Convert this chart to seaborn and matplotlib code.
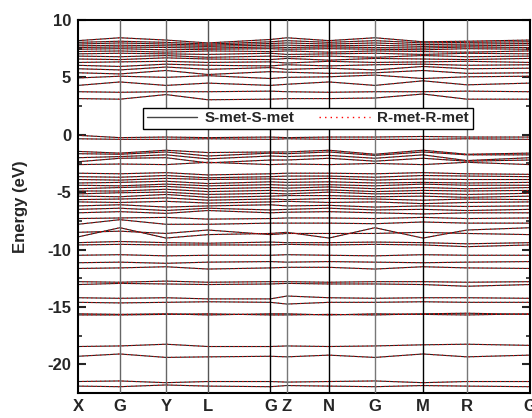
import numpy as np
import pandas as pd
import matplotlib
matplotlib.use("Agg")
import matplotlib.pyplot as plt
from matplotlib.lines import Line2D
from matplotlib.ticker import MultipleLocator
import seaborn as sns

# k-path (high symmetry points) and their positions along the path
kpoint_labels = ['X', 'G', 'Y', 'L', 'G', 'Z', 'N', 'G', 'M', 'R', 'G']
kpoint_pos = [0, 42, 88, 130, 192.5, 209, 251, 297, 345, 389, 452]

# band energies (eV) at each high symmetry point
deep_bands = [
    [-21.9, -21.95, -21.8, -21.9, -21.95, -21.85, -21.9, -21.95, -21.85, -21.9, -21.95],
    [-21.5, -21.45, -21.6, -21.5, -21.5, -21.55, -21.5, -21.45, -21.6, -21.5, -21.5],
    [-19.3, -19.1, -19.4, -19.35, -19.3, -19.35, -19.2, -19.4, -19.1, -19.35, -19.2],
    [-18.45, -18.4, -18.25, -18.45, -18.45, -18.4, -18.45, -18.4, -18.3, -18.25, -18.35],
    [-15.7, -15.7, -15.65, -15.6, -15.7, -15.7, -15.65, -15.7, -15.6, -15.55, -15.65],
    [-15.6, -15.65, -15.6, -15.7, -15.6, -15.6, -15.7, -15.6, -15.65, -15.7, -15.6],
    [-14.6, -14.65, -14.6, -14.55, -14.6, -14.75, -14.6, -14.6, -14.55, -14.6, -14.6],
    [-14.2, -14.25, -14.2, -14.3, -14.3, -14.05, -14.2, -14.25, -14.2, -14.2, -14.25],
    [-13.05, -12.95, -13.0, -13.05, -13.0, -12.95, -13.0, -13.0, -13.05, -13.2, -13.05],
    [-12.8, -12.85, -12.75, -12.85, -12.8, -12.8, -12.85, -12.8, -12.8, -12.85, -12.8],
    [-11.65, -11.6, -11.5, -11.7, -11.6, -11.55, -11.55, -11.7, -11.5, -11.6, -11.65],
]

valence_bands = [
    [-11.15, -11.1, -11.2, -11.1, -11.05, -11.1, -11.05, -11.1, -11.15, -11.1, -11.05],
    [-10.5, -10.45, -10.55, -10.5, -10.5, -10.45, -10.5, -10.55, -10.45, -10.5, -10.5],
    [-9.6, -9.55, -9.6, -9.6, -9.6, -9.55, -9.6, -9.55, -9.6, -9.75, -9.6],
    [-9.4, -9.3, -9.4, -9.45, -9.35, -9.4, -9.4, -9.35, -9.4, -9.5, -9.4],
    [-8.9, -8.1, -9.0, -8.7, -8.6, -8.5, -9.0, -8.1, -9.0, -8.3, -8.1],
    [-8.5, -8.4, -8.6, -8.3, -8.7, -8.6, -8.6, -8.6, -8.5, -8.6, -8.7],
    [-7.8, -7.4, -7.8, -7.8, -7.7, -7.7, -7.7, -7.75, -7.6, -7.7, -7.7],
    [-7.3, -7.25, -7.2, -7.35, -7.3, -7.25, -7.25, -7.3, -7.2, -7.3, -7.25],
    [-6.8, -6.7, -6.85, -6.6, -6.8, -6.75, -6.7, -6.8, -6.9, -6.8, -6.8],
    [-6.5, -6.4, -6.6, -6.4, -6.55, -6.5, -6.4, -6.55, -6.5, -6.6, -6.5],
    [-6.2, -6.1, -6.3, -6.2, -6.1, -6.2, -6.15, -6.3, -6.2, -6.25, -6.2],
    [-5.85, -5.9, -5.8, -5.95, -5.85, -5.8, -5.9, -5.85, -6.0, -5.9, -5.85],
    [-5.65, -5.6, -5.5, -5.7, -5.6, -5.65, -5.55, -5.6, -5.7, -5.6, -5.65],
    [-5.35, -5.4, -5.2, -5.45, -5.35, -5.3, -5.3, -5.4, -5.35, -5.45, -5.35],
    [-5.15, -5.05, -5.0, -5.2, -5.1, -5.15, -5.0, -5.15, -5.1, -5.2, -5.1],
    [-4.9, -4.9, -4.75, -4.95, -4.85, -4.9, -4.8, -4.95, -4.85, -4.9, -4.85],
    [-4.7, -4.6, -4.5, -4.7, -4.6, -4.65, -4.55, -4.7, -4.6, -4.7, -4.6],
    [-4.4, -4.45, -4.3, -4.45, -4.35, -4.4, -4.35, -4.45, -4.3, -4.4, -4.4],
    [-4.2, -4.15, -4.05, -4.25, -4.1, -4.15, -4.1, -4.2, -4.15, -4.2, -4.15],
    [-3.9, -3.95, -3.8, -3.9, -3.85, -3.9, -3.8, -3.95, -3.85, -3.9, -3.9],
    [-3.65, -3.7, -3.55, -3.75, -3.65, -3.6, -3.6, -3.7, -3.55, -3.6, -3.65],
    [-3.35, -3.4, -3.3, -3.5, -3.4, -3.35, -3.35, -3.4, -3.3, -3.4, -3.45],
    [-2.6, -2.55, -2.6, -2.4, -2.6, -2.55, -2.6, -2.5, -2.6, -2.4, -2.6],
    [-2.35, -2.05, -2.0, -2.45, -2.2, -2.2, -2.05, -2.3, -2.05, -2.3, -2.2],
    [-2.0, -1.9, -1.75, -2.1, -1.85, -1.9, -1.8, -2.05, -1.75, -2.25, -2.0],
    [-1.65, -1.7, -1.5, -1.85, -1.6, -1.65, -1.5, -1.8, -1.5, -1.75, -1.75],
    [-1.45, -1.6, -1.35, -1.55, -1.5, -1.5, -1.35, -1.7, -1.35, -1.7, -1.6],
    [-0.35, -0.4, -0.4, -0.35, -0.4, -0.35, -0.4, -0.4, -0.4, -0.35, -0.4],
    [-0.05, -0.25, -0.2, -0.25, -0.2, -0.25, -0.2, -0.2, -0.15, -0.2, -0.2],
]

conduction_bands = [
    [3.15, 3.1, 3.5, 3.05, 3.1, 3.15, 3.15, 3.2, 3.55, 3.1, 3.1],
    [3.75, 3.7, 3.75, 3.75, 3.8, 3.75, 3.7, 3.75, 3.75, 3.8, 3.75],
    [4.3, 4.6, 4.3, 4.5, 4.3, 4.4, 4.6, 4.3, 4.7, 4.35, 4.5],
    [4.95, 5.1, 5.0, 5.15, 4.9, 5.0, 5.05, 5.2, 4.9, 5.05, 5.1],
    [5.4, 5.3, 5.6, 5.25, 5.5, 5.45, 5.35, 5.4, 5.6, 5.35, 5.4],
    [5.75, 5.65, 5.9, 5.7, 5.85, 5.7, 5.8, 5.65, 5.95, 5.75, 5.8],
    [6.05, 5.95, 6.15, 6.05, 6.0, 6.1, 6.0, 6.1, 6.15, 6.05, 6.1],
    [6.3, 6.35, 6.4, 6.3, 6.35, 6.25, 6.4, 6.3, 6.35, 6.4, 6.3],
    [6.6, 6.55, 6.7, 6.6, 6.55, 6.65, 6.5, 6.65, 6.6, 6.55, 6.65],
    [6.85, 6.8, 6.9, 6.75, 6.85, 6.8, 6.85, 6.75, 6.9, 6.8, 6.85],
    [7.05, 7.1, 7.05, 7.0, 7.1, 7.0, 7.05, 7.1, 7.0, 7.1, 7.05],
    [7.25, 7.3, 7.2, 7.3, 7.25, 7.3, 7.2, 7.3, 7.25, 7.2, 7.3],
    [7.45, 7.5, 7.4, 7.45, 7.5, 7.45, 7.5, 7.45, 7.4, 7.5, 7.45],
    [7.6, 7.65, 7.6, 7.55, 7.65, 7.6, 7.65, 7.6, 7.55, 7.65, 7.6],
    [7.75, 7.8, 7.75, 7.7, 7.8, 7.8, 7.75, 7.8, 7.7, 7.75, 7.8],
    [7.9, 8.0, 7.9, 7.8, 7.95, 8.0, 7.9, 8.0, 7.85, 7.9, 7.95],
    [8.05, 8.15, 8.05, 7.9, 8.1, 8.2, 8.05, 8.2, 8.0, 8.05, 8.1],
    [8.2, 8.45, 8.25, 8.0, 8.3, 8.45, 8.2, 8.45, 8.1, 8.15, 8.25],
]

s_met_bands = deep_bands + valence_bands + conduction_bands
# R-met bands lie on top of the S-met ones in the picture
r_met_bands = s_met_bands

# vertical separators: gray / black as in the picture
sep_colors = ['none', '#666666', '#666666', '#555555', 'black', '#777777',
              'black', '#777777', 'black', '#777777', 'none']


def to_long(bands, name):
    rows = []
    for i, b in enumerate(bands):
        for k, e in zip(kpoint_pos, b):
            rows.append((name, i, k, e))
    return pd.DataFrame(rows, columns=['series', 'band', 'k', 'energy'])


df_s = to_long(s_met_bands, 'S-met-S-met')
df_r = to_long(r_met_bands, 'R-met-R-met')

sns.set_style('ticks')
plt.rcParams['font.family'] = ['Liberation Sans', 'DejaVu Sans']
plt.rcParams['font.weight'] = 'bold'
plt.rcParams['axes.unicode_minus'] = False

fig = plt.figure(figsize=(5.32, 4.18), dpi=100)
ax = fig.add_axes([0.1466, 0.0598, 0.8494, 0.8924])

sns.lineplot(data=df_s, x='k', y='energy', units='band', estimator=None,
             color='#222222', lw=0.8, ax=ax, legend=False)
sns.lineplot(data=df_r, x='k', y='energy', units='band', estimator=None,
             color='red', lw=0.8, linestyle=(0, (1, 3)), ax=ax, legend=False)

for k, c in zip(kpoint_pos, sep_colors):
    if c != 'none':
        ax.axvline(k, color=c, lw=1.0, zorder=3)

ax.set_xlim(kpoint_pos[0], kpoint_pos[-1])
ax.set_ylim(-22.5, 10)
ax.set_xticks(kpoint_pos)
ax.set_xticklabels(kpoint_labels, fontsize=12, fontweight='bold')
ax.tick_params(axis='x', length=0, pad=4)
ax.yaxis.set_major_locator(MultipleLocator(5))
ax.yaxis.set_minor_locator(MultipleLocator(2.5))
ax.tick_params(axis='y', which='major', direction='in', length=6, width=1.5,
               left=True, right=True, labelsize=12, pad=5)
ax.tick_params(axis='y', which='minor', direction='in', length=3, width=1.2,
               left=True, right=True)
for lab in ax.get_yticklabels():
    lab.set_fontweight('bold')
ax.set_xlabel('')
ax.set_ylabel('Energy (eV)', fontsize=12, fontweight='bold', labelpad=14)
for sp in ax.spines.values():
    sp.set_linewidth(1.5)
    sp.set_color('black')

handles = [Line2D([], [], color='#444444', lw=1.0),
           Line2D([], [], color='red', lw=1.0, linestyle=(0, (1, 3)))]
leg = ax.legend(handles, ['S-met-S-met', 'R-met-R-met'], ncol=2,
                loc='center', bbox_to_anchor=(0.509, 0.736),
                prop={'weight': 'bold', 'size': 11},
                handlelength=3.3, columnspacing=1.6, handletextpad=0.5,
                borderpad=0.25, frameon=True, fancybox=False, framealpha=1)
leg.get_frame().set_edgecolor('black')
leg.get_frame().set_linewidth(1.0)
leg.set_zorder(5)

fig.savefig('out.png', dpi=100)
